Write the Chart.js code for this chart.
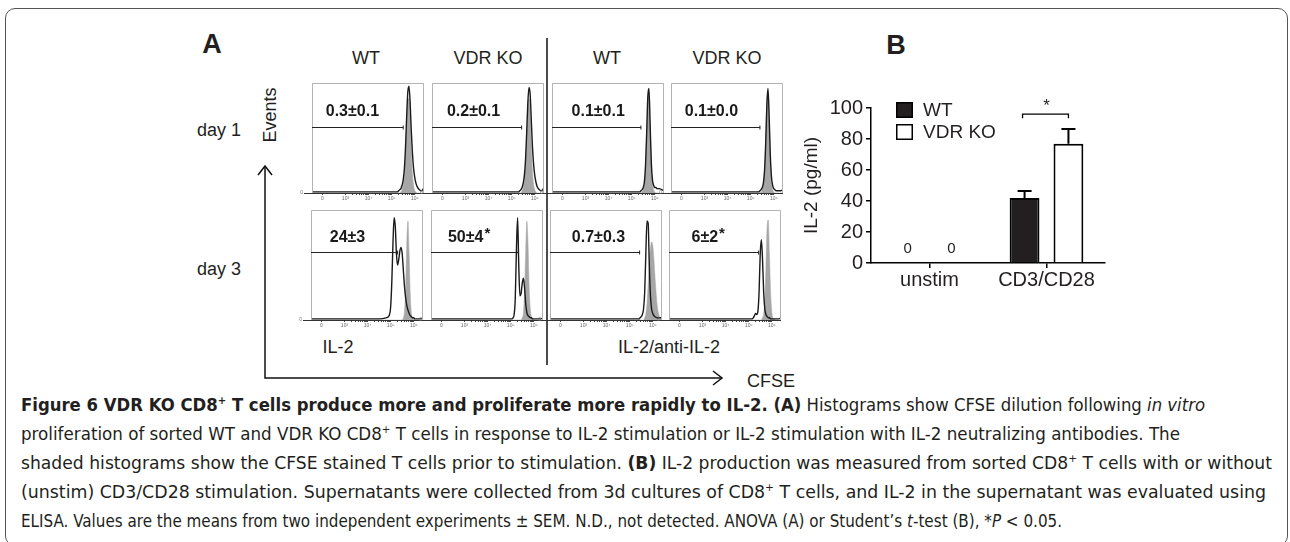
<!DOCTYPE html>
<html><head><meta charset="utf-8">
<script src="https://cdn.jsdelivr.net/npm/chart.js@4.4.0/dist/chart.umd.min.js"></script>
<style>
html,body{margin:0;padding:0;background:#fff;width:1290px;height:542px;overflow:hidden;}
#root{position:relative;width:1290px;height:542px;font-family:"Liberation Sans",Arial,sans-serif;color:#231f20;}
.abs{position:absolute;white-space:nowrap;line-height:1;}
#box{position:absolute;left:5px;top:8px;width:1283px;height:538px;border:1.5px solid #555;border-radius:10px;box-sizing:border-box;}
canvas{position:absolute;}
.cap{position:absolute;left:21px;font-family:"DejaVu Sans Condensed","DejaVu Sans","Liberation Sans Narrow",sans-serif;font-stretch:condensed;font-size:18px;line-height:20px;transform-origin:0 50%;white-space:nowrap;color:#231f20;}
.cap sup{font-size:11px;line-height:0;vertical-align:7px;}
</style></head>
<body><div id="root"><div id="box"></div>
<svg id="ov" width="1290" height="542" style="position:absolute;left:0;top:0" xmlns="http://www.w3.org/2000/svg">
  <line x1="547" y1="38" x2="547" y2="365" stroke="#111" stroke-width="1.5"/>
  <polyline points="265,166 265,378 722,378" fill="none" stroke="#111" stroke-width="1.5"/>
  <polyline points="258,175 265,166 272,175" fill="none" stroke="#111" stroke-width="1.5"/>
  <polyline points="713,371 722,378 713,385" fill="none" stroke="#111" stroke-width="1.5"/>
</svg>
</div>
<script>
// ---------------- DATA ----------------
// Panel A: histogram x grid (decade units of biexponential CFSE axis: 0=0, 1=10^3, 2=10^4, 3=10^5, 4=10^6)
const HIST_X = [-0.45,1.0,2.5,2.8,2.9,2.95,3.0,3.05,3.1,3.15,3.2,3.25,3.3,3.35,3.4,3.45,3.5,3.55,3.6,3.65,3.7,3.75,3.8,3.85,3.9,3.95,4.0,4.05,4.1,4.2,4.3,4.4];
const X_TICKS = [0,1,2,3,4];
const X_TICK_LABELS = ['0','10\u00b3','10\u2074','10\u2075','10\u2076'];
const MINOR_K = [2,3,4,5,6,7,8,9];

// day 1
const D1_WT_IL2_BLACK  = [0.01,0.01,0.01,0.01,0.01,0.01,0.01,0.01,0.01,0.01,0.01,0.01,0.02,0.03,0.04,0.07,0.12,0.22,0.42,0.70,0.92,0.97,0.82,0.56,0.36,0.22,0.14,0.09,0.06,0.03,0.02,0.05];
const D1_WT_IL2_GREY   = [0,0,0,0,0,0,0,0,0,0,0,0,0,0,0.01,0.03,0.07,0.16,0.36,0.64,0.84,0.86,0.66,0.38,0.17,0.07,0.02,0.01,0,0,0,0];
const D1_KO_IL2_BLACK  = [0.01,0.01,0.01,0.01,0.01,0.01,0.01,0.01,0.01,0.01,0.01,0.01,0.01,0.02,0.03,0.05,0.09,0.16,0.30,0.55,0.82,0.96,0.90,0.66,0.42,0.26,0.16,0.10,0.06,0.03,0.02,0.05];
const D1_KO_IL2_GREY   = [0,0,0,0,0,0,0,0,0,0,0,0,0,0,0,0.02,0.05,0.12,0.26,0.50,0.76,0.86,0.72,0.44,0.20,0.08,0.03,0.01,0,0,0,0];
const D1_WT_ANTI_BLACK = [0.01,0.01,0.01,0.01,0.01,0.01,0.01,0.01,0.01,0.01,0.01,0.01,0.01,0.01,0.02,0.03,0.05,0.10,0.25,0.55,0.88,0.95,0.62,0.28,0.12,0.07,0.05,0.05,0.04,0.04,0.03,0.02];
const D1_WT_ANTI_GREY  = [0,0,0,0,0,0,0,0,0,0,0,0,0,0,0,0.01,0.03,0.08,0.22,0.50,0.82,0.88,0.58,0.25,0.09,0.03,0.01,0,0,0,0,0];
const D1_KO_ANTI_BLACK = [0.01,0.01,0.01,0.01,0.01,0.01,0.01,0.01,0.01,0.01,0.01,0.01,0.01,0.01,0.02,0.03,0.05,0.09,0.20,0.45,0.80,0.95,0.70,0.35,0.15,0.07,0.04,0.03,0.02,0.02,0.02,0.03];
const D1_KO_ANTI_GREY  = [0,0,0,0,0,0,0,0,0,0,0,0,0,0,0,0.01,0.03,0.08,0.20,0.46,0.80,0.90,0.65,0.30,0.10,0.03,0.01,0,0,0,0,0];
// day 3
const D3_WT_IL2_BLACK  = [0.01,0.01,0.01,0.02,0.03,0.05,0.12,0.35,0.70,0.93,0.85,0.60,0.50,0.55,0.63,0.66,0.60,0.45,0.30,0.20,0.13,0.09,0.06,0.04,0.03,0.02,0.02,0.01,0.01,0.01,0.01,0.02];
const D3_WT_IL2_GREY   = [0,0,0,0,0,0,0,0,0,0,0,0,0,0,0,0,0,0.02,0.08,0.30,0.72,0.90,0.60,0.22,0.06,0.02,0.01,0,0,0,0,0];
const D3_KO_IL2_BLACK  = [0.01,0.01,0.01,0.01,0.01,0.01,0.01,0.01,0.02,0.05,0.20,0.65,0.93,0.50,0.22,0.24,0.33,0.38,0.30,0.15,0.07,0.04,0.03,0.02,0.02,0.01,0.01,0.01,0.01,0.01,0.01,0.02];
const D3_KO_IL2_GREY   = [0,0,0,0,0,0,0,0,0,0,0,0,0,0,0,0,0.02,0.06,0.25,0.62,0.90,0.70,0.30,0.10,0.03,0.01,0,0,0,0,0,0];
const D3_WT_ANTI_BLACK = [0.01,0.01,0.01,0.01,0.01,0.01,0.01,0.01,0.01,0.01,0.01,0.01,0.01,0.01,0.01,0.02,0.03,0.05,0.10,0.25,0.60,0.90,0.88,0.50,0.22,0.10,0.06,0.04,0.03,0.02,0.02,0.02];
const D3_WT_ANTI_GREY  = [0,0,0,0,0,0,0,0,0,0,0,0,0,0,0,0,0,0,0,0.02,0.06,0.15,0.32,0.52,0.65,0.71,0.68,0.55,0.38,0.12,0.03,0.01];
const D3_KO_ANTI_BLACK = [0.01,0.01,0.01,0.01,0.01,0.01,0.01,0.01,0.01,0.01,0.02,0.04,0.06,0.05,0.08,0.25,0.60,0.73,0.55,0.25,0.10,0.05,0.03,0.02,0.02,0.01,0.01,0.01,0.01,0.01,0.01,0.02];
const D3_KO_ANTI_GREY  = [0,0,0,0,0,0,0,0,0,0,0,0,0,0,0,0,0,0,0.02,0.06,0.18,0.50,0.85,0.91,0.60,0.25,0.08,0.02,0.01,0,0,0];

const COL_HEADERS = ['WT','VDR KO','WT','VDR KO'];
const ROW_LABELS = ['day 1','day 3'];
const GATE_TEXT = ['0.3\u00b10.1','0.2\u00b10.1','0.1\u00b10.1','0.1\u00b10.0','24\u00b13','50\u00b14','0.7\u00b10.3','6\u00b12'];
const GATE_STAR = [false,false,false,false,false,true,false,true];
const GATE_END  = [3.5,3.43,3.4,3.4,3.3,3.33,3.43,3.43];

// Panel B
const B_CATEGORIES = ['unstim','CD3/CD28'];
const B_WT     = [0, 42];
const B_WT_SEM = [0, 4.5];
const B_KO     = [0, 77];
const B_KO_SEM = [0, 9.5];
const B_Y_TICKS = [0,20,40,60,80,100];

// ---------------- LAYOUT ----------------
const root = document.getElementById('root');
function addText(html, x, y, size, opts) {
  opts = opts || {};
  const d = document.createElement('div');
  d.className = 'abs';
  d.innerHTML = html;
  d.style.left = x + 'px'; d.style.top = y + 'px';
  d.style.fontSize = size + 'px';
  if (opts.bold) d.style.fontWeight = 'bold';
  d.style.transform = 'translate(-50%,-50%)' + (opts.rot ? ' rotate(' + opts.rot + 'deg)' : '');
  root.appendChild(d);
  return d;
}
addText('A', 212, 44, 27, {bold:true});
addText('B', 896, 45, 27, {bold:true});
const HEAD_X = [366, 488, 607, 727];
COL_HEADERS.forEach((t,i)=>addText(t, HEAD_X[i], 58, 18));
addText(ROW_LABELS[0], 219, 130, 18);
addText(ROW_LABELS[1], 219, 269, 18);
addText('Events', 270, 115, 18, {rot:-90});
addText('IL-2', 338, 347, 18);
addText('IL-2/anti-IL-2', 669, 347, 18);
addText('CFSE', 771, 381, 18);

// histogram panels
const HBOX = [[312,83],[432,83],[552,83],[671,83],[311,210],[431,210],[550,210],[669,210]];
const HW = 112, HH = 110;
const GATE_Y = [0.6,0.6,0.6,0.6,0.62,0.62,0.62,0.62];
const LABEL_X = [1.3,1.35,1.55,1.3,1.13,1.05,1.65,1.1];
const LABEL_Y = [0.74,0.74,0.74,0.74,0.75,0.75,0.75,0.75];
const SERIES = [
  [D1_WT_IL2_BLACK, D1_WT_IL2_GREY],[D1_KO_IL2_BLACK, D1_KO_IL2_GREY],
  [D1_WT_ANTI_BLACK, D1_WT_ANTI_GREY],[D1_KO_ANTI_BLACK, D1_KO_ANTI_GREY],
  [D3_WT_IL2_BLACK, D3_WT_IL2_GREY],[D3_KO_IL2_BLACK, D3_KO_IL2_GREY],
  [D3_WT_ANTI_BLACK, D3_WT_ANTI_GREY],[D3_KO_ANTI_BLACK, D3_KO_ANTI_GREY]
];
const TICK_VALUES = X_TICKS.slice();
[1,2,3].forEach(d => MINOR_K.forEach(k => TICK_VALUES.push(d + Math.log10(k))));
TICK_VALUES.sort((a,b)=>a-b);

function makeCanvas(left, top, w, h) {
  const cv = document.createElement('canvas');
  cv.width = w; cv.height = h;
  cv.style.left = left + 'px'; cv.style.top = top + 'px';
  cv.style.width = w + 'px'; cv.style.height = h + 'px';
  root.appendChild(cv);
  return cv;
}

function histPlugin(i) {
  return {
    id: 'frame' + i,
    afterDraw(chart) {
      const ctx = chart.ctx, a = chart.chartArea, xs = chart.scales.x, ys = chart.scales.y;
      ctx.save();
      ctx.strokeStyle = '#b3b3b3'; ctx.lineWidth = 1;
      ctx.beginPath();
      ctx.moveTo(a.left + 0.5, a.bottom); ctx.lineTo(a.left + 0.5, a.top + 0.5);
      ctx.lineTo(a.right - 0.5, a.top + 0.5); ctx.lineTo(a.right - 0.5, a.bottom);
      ctx.stroke();
      ctx.strokeStyle = '#333';
      ctx.beginPath(); ctx.moveTo(a.left - 8, a.bottom + 0.5); ctx.lineTo(a.right, a.bottom + 0.5); ctx.stroke();
      ctx.fillStyle = '#777'; ctx.font = '5px Arial'; ctx.textAlign = 'right'; ctx.textBaseline = 'middle';
      ctx.fillText('0', a.left - 9, a.bottom);
      // gate
      const gy = Math.round(ys.getPixelForValue(GATE_Y[i])) + 0.5;
      const gx = xs.getPixelForValue(GATE_END[i]);
      ctx.strokeStyle = '#222'; ctx.lineWidth = 1;
      ctx.beginPath(); ctx.moveTo(a.left, gy); ctx.lineTo(gx, gy);
      ctx.moveTo(gx, gy - 2); ctx.lineTo(gx, gy + 2); ctx.stroke();
      // gate label
      ctx.fillStyle = '#1a1a1a'; ctx.font = 'bold 16px "Liberation Sans", Arial';
      ctx.textAlign = 'center'; ctx.textBaseline = 'middle';
      const lx = xs.getPixelForValue(LABEL_X[i]), ly = ys.getPixelForValue(LABEL_Y[i]);
      ctx.fillText(GATE_TEXT[i], lx, ly);
      if (GATE_STAR[i]) {
        const w = ctx.measureText(GATE_TEXT[i]).width;
        ctx.font = 'bold 15px "Liberation Sans", Arial'; ctx.textAlign = 'left';
        ctx.fillText('*', lx + w / 2 + 1, ly - 4);
      }
      ctx.restore();
    }
  };
}

SERIES.forEach((s, i) => {
  const [L, T] = HBOX[i];
  const padL = 12, padR = 4, padT = 2, axisH = 14;
  const cv = makeCanvas(L - padL, T - padT, HW + padL + padR, HH + padT + axisH);
  new Chart(cv, {
    type: 'line',
    data: { datasets: [
      { data: HIST_X.map((x,k)=>({x:x, y:s[1][k]})), fill:'origin', backgroundColor:'#a6a6a6', borderColor:'#a6a6a6', borderWidth:0.5, pointRadius:0, cubicInterpolationMode:'monotone', order:2 },
      { data: HIST_X.map((x,k)=>({x:x, y:s[0][k]})), fill:false, borderColor:'#1a1a1a', borderWidth:1.4, pointRadius:0, cubicInterpolationMode:'monotone', order:1 }
    ]},
    options: {
      responsive:false, animation:false, devicePixelRatio:1,
      layout:{ padding:{ left:padL, right:padR, top:padT, bottom:0 } },
      plugins:{ legend:{display:false}, tooltip:{enabled:false} },
      scales:{
        x:{ type:'linear', min:-0.45, max:4.4,
            afterFit(sc){ sc.height = axisH; },
            afterBuildTicks(sc){ sc.ticks = TICK_VALUES.map(v=>({value:v})); },
            ticks:{ autoSkip:false, maxRotation:0, font:{size:5}, color:'#666', padding:1,
                    callback:(v)=>{ const j = X_TICKS.indexOf(v); return j >= 0 ? X_TICK_LABELS[j] : ''; } },
            grid:{ drawOnChartArea:false, tickLength:2, color:'#444' },
            border:{ display:false } },
        y:{ display:false, min:0, max:1 }
      }
    },
    plugins:[histPlugin(i)]
  });
});

// ---------------- Panel B bar chart ----------------
const BL = 790, BT = 90, BW = 330, BH = 210;
const cvB = makeCanvas(BL, BT, BW, BH);
const bPlugin = {
  id:'bextras',
  afterDatasetsDraw(chart) {
    const ctx = chart.ctx, ys = chart.scales.y;
    ctx.save();
    chart.data.datasets.forEach((ds, di) => {
      const meta = chart.getDatasetMeta(di);
      meta.data.forEach((bar, k) => {
        const v = ds.data[k], e = ds.err[k];
        if (v === 0) {
          ctx.fillStyle = '#231f20'; ctx.font = '15px "Liberation Sans", Arial';
          ctx.textAlign = 'center'; ctx.textBaseline = 'middle';
          ctx.fillText('0', bar.x, ys.getPixelForValue(0) - 14);
        } else if (e > 0) {
          const top = ys.getPixelForValue(v + e);
          ctx.strokeStyle = '#000'; ctx.lineWidth = 2;
          ctx.beginPath(); ctx.moveTo(bar.x, bar.y); ctx.lineTo(bar.x, top);
          ctx.moveTo(bar.x - 7, top); ctx.lineTo(bar.x + 7, top); ctx.stroke();
        }
      });
    });
    // significance bracket between the two CD3/CD28 bars
    const b0 = chart.getDatasetMeta(0).data[1], b1 = chart.getDatasetMeta(1).data[1];
    const yb = ys.getPixelForValue(96);
    ctx.strokeStyle = '#000'; ctx.lineWidth = 1.3;
    ctx.beginPath(); ctx.moveTo(b0.x - 2, yb + 4); ctx.lineTo(b0.x - 2, yb); ctx.lineTo(b1.x, yb); ctx.lineTo(b1.x, yb + 4); ctx.stroke();
    ctx.fillStyle = '#231f20'; ctx.font = '17px "Liberation Sans", Arial'; ctx.textAlign = 'center'; ctx.textBaseline = 'middle';
    ctx.fillText('*', (b0.x + b1.x) / 2, yb - 8);
    // legend
    chart.data.datasets.forEach((ds, di) => {
      const x = 896 - BL, y = 102 - BT + di * 22;
      ctx.fillStyle = ds.backgroundColor; ctx.fillRect(x, y, 17, 16);
      ctx.strokeStyle = '#000'; ctx.lineWidth = 1.5; ctx.strokeRect(x + 0.75, y + 0.75, 15.5, 14.5);
      ctx.fillStyle = '#231f20'; ctx.font = '19px "Liberation Sans", Arial'; ctx.textAlign = 'left'; ctx.textBaseline = 'middle';
      ctx.fillText(ds.label, x + 27, y + 9);
    });
    ctx.restore();
  }
};
new Chart(cvB, {
  type:'bar',
  data:{ labels:B_CATEGORIES, datasets:[
    { label:'WT', data:B_WT, err:B_WT_SEM, backgroundColor:'#231f20', borderColor:'#000', borderWidth:2 },
    { label:'VDR KO', data:B_KO, err:B_KO_SEM, backgroundColor:'#ffffff', borderColor:'#000', borderWidth:2 }
  ]},
  options:{
    responsive:false, animation:false, devicePixelRatio:1,
    layout:{ padding:{ left:0, right:15, top:18, bottom:0 } },
    datasets:{ bar:{ categoryPercentage:0.75, barPercentage:0.68 } },
    plugins:{ legend:{display:false}, tooltip:{enabled:false} },
    scales:{
      x:{ afterFit(sc){ sc.height = 37; },
          grid:{ offset:false, drawOnChartArea:false, tickLength:5, color:'#000', lineWidth:1.5 },
          border:{ color:'#000', width:1.5 },
          ticks:{ font:{size:20, family:'"Liberation Sans", Arial'}, color:'#231f20', padding:0 } },
      y:{ min:0, max:100,
          afterFit(sc){ sc.width = 81; },
          afterBuildTicks(sc){ sc.ticks = B_Y_TICKS.map(v=>({value:v})); },
          grid:{ drawOnChartArea:false, tickLength:5, color:'#000', lineWidth:1.5 },
          border:{ color:'#000', width:1.5 },
          ticks:{ font:{size:20, family:'"Liberation Sans", Arial'}, color:'#231f20', padding:3 },
          title:{ display:true, text:'IL-2 (pg/ml)', font:{size:19, family:'"Liberation Sans", Arial'}, color:'#231f20', padding:{top:10, bottom:0} } }
    }
  },
  plugins:[bPlugin]
});

// ---------------- Caption ----------------
const CAPTION = [
  '<b>Figure 6 VDR KO CD8<sup>+</sup> T cells produce more and proliferate more rapidly to IL-2. (A)</b> Histograms show CFSE dilution following <i>in vitro</i>',
  'proliferation of sorted WT and VDR KO CD8<sup>+</sup> T cells in response to IL-2 stimulation or IL-2 stimulation with IL-2 neutralizing antibodies. The',
  'shaded histograms show the CFSE stained T cells prior to stimulation. <b>(B)</b> IL-2 production was measured from sorted CD8<sup>+</sup> T cells with or without',
  '(unstim) CD3/CD28 stimulation. Supernatants were collected from 3d cultures of CD8<sup>+</sup> T cells, and IL-2 in the supernatant was evaluated using',
  'ELISA. Values are the means from two independent experiments \u00b1 SEM. N.D., not detected. ANOVA (A) or Student\u2019s <i>t</i>-test (B), *<i>P</i> &lt; 0.05.'
];
const CAP_Y = [405, 434, 463, 492, 521];
const CAP_END = [1205, 1180, 1272, 1266, 1062];
CAPTION.forEach((html, i) => {
  const d = document.createElement('div');
  d.className = 'cap';
  d.innerHTML = html;
  d.style.top = (CAP_Y[i] - 10) + 'px';
  root.appendChild(d);
  const w = d.getBoundingClientRect().width;
  d.style.transform = 'scaleX(' + ((CAP_END[i] - 21) / w).toFixed(4) + ')';
});
</script>
</body></html>
